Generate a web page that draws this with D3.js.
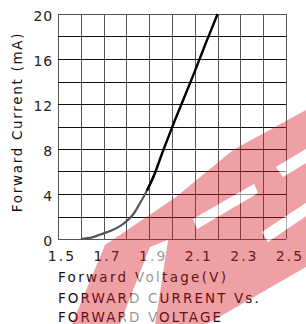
<!DOCTYPE html>
<html>
<head>
<meta charset="utf-8">
<script src="https://cdn.jsdelivr.net/npm/d3@7"></script>
<style>
  html, body { margin: 0; padding: 0; background: #fff; }
  svg { display: block; }
  text { font-family: "DejaVu Sans", sans-serif; }
</style>
</head>
<body>
<svg id="chart" width="306" height="324"></svg>
<script>
// Forward voltage (V) vs forward current (mA)
const voltage = [1.6, 1.65, 1.7, 1.75, 1.79, 1.83, 1.86, 1.89, 1.92, 1.96, 2.0, 2.05, 2.1, 2.15, 2.2];
const current = [0, 0.15, 0.5, 0.9, 1.4, 2.2, 3.2, 4.3, 5.6, 7.8, 9.9, 12.4, 14.9, 17.5, 20];
const xTicks = [1.5, 1.7, 1.9, 2.1, 2.3, 2.5];
const yTicks = [0, 4, 8, 12, 16, 20];
const titleLines = ['FORWARD CURRENT Vs.', 'FORWARD VOLTAGE'];

const svg = d3.select('#chart');
const plot = {left: 58, right: 286, top: 14, bottom: 239};

let x = d3.scaleLinear().domain([1.5, 2.5]).range([plot.left, plot.right]);
let y = d3.scaleLinear().domain([0, 20]).range([plot.bottom, plot.top]);

// Grid: one line every 0.1 V and every 2 mA
let grid = svg.append('g').attr('class', 'grid');
grid.selectAll('line.v')
  .data(d3.range(0, 11).map(i => 1.5 + i * 0.1))
  .join('line')
  .attr('class', 'v')
  .attr('x1', d => Math.round(x(d)) + 0.5)
  .attr('x2', d => Math.round(x(d)) + 0.5)
  .attr('y1', plot.top)
  .attr('y2', plot.bottom)
  .style('stroke', '#555')
  .style('stroke-width', 1);

grid.selectAll('line.h')
  .data(d3.range(0, 11).map(i => i * 2))
  .join('line')
  .attr('class', 'h')
  .attr('x1', plot.left)
  .attr('x2', plot.right)
  .attr('y1', d => Math.round(y(d)) + 0.5)
  .attr('y2', d => Math.round(y(d)) + 0.5)
  .style('stroke', d => (d === 0 || d === 20) ? '#555' : '#111')
  .style('stroke-width', 1);

// Curve: grey at the knee, black on the straight part
let pts = voltage.map((v, i) => ({v: v, c: current[i]}));
let line = d3.line()
  .x(d => x(d.v))
  .y(d => y(d.c))
  .curve(d3.curveMonotoneX);

svg.append('path')
  .datum(pts.filter(d => d.c <= 5.6))
  .attr('d', line)
  .style('fill', 'none')
  .style('stroke', '#555')
  .style('stroke-width', 2.2);

svg.append('path')
  .datum(pts.filter(d => d.c >= 4.3))
  .attr('d', line)
  .style('fill', 'none')
  .style('stroke', '#000')
  .style('stroke-width', 2.4);

// Tick labels
svg.append('g')
  .selectAll('text')
  .data(yTicks)
  .join('text')
  .attr('x', 53)
  .attr('y', d => y(d) + 7)
  .style('text-anchor', 'end')
  .style('font-size', '14px')
  .style('fill', '#222')
  .style('letter-spacing', '0.8px')
  .text(d => d);

svg.append('g')
  .selectAll('text')
  .data(xTicks)
  .join('text')
  .attr('x', d => x(d) + 4)
  .attr('y', 261)
  .style('text-anchor', 'middle')
  .style('font-size', '14px')
  .style('fill', '#222')
  .style('letter-spacing', '2px')
  .text(d => d3.format('.1f')(d));

// Axis titles
svg.append('text')
  .attr('transform', 'translate(22, 122) rotate(-90)')
  .style('text-anchor', 'middle')
  .style('font-size', '13.5px')
  .style('letter-spacing', '1.7px')
  .style('fill', '#111')
  .text('Forward Current (mA)');

svg.append('text')
  .attr('x', 58)
  .attr('y', 282)
  .style('font-size', '13.5px')
  .style('letter-spacing', '2.3px')
  .style('fill', '#111')
  .text('Forward Voltage(V)');

svg.append('g')
  .selectAll('text')
  .data(titleLines)
  .join('text')
  .attr('x', 58)
  .attr('y', (d, i) => 303 + i * 18.5)
  .style('font-size', '13.5px')
  .style('letter-spacing', '2.1px')
  .style('fill', '#111')
  .text(d => d);

// Red watermark over the lower right, with pale letter cut-outs
const wmBand = [[72, 324], [105, 245], [176, 197], [233, 150], [306, 110], [306, 267], [207, 324]];
const wmCuts = [
  [[120, 324], [150, 247], [168, 240], [155, 324]],
  [[193, 219], [254, 184], [258, 193], [197, 229]],
  [[276, 167], [306, 149], [306, 163], [283, 177]],
  [[262, 232], [306, 203], [306, 216], [268, 242]]
];
const toPath = p => 'M' + p.map(q => q.join(',')).join('L') + 'Z';

let defs = svg.append('defs');
let mask = defs.append('mask').attr('id', 'wm-mask');
mask.append('path').attr('d', toPath(wmBand)).style('fill', '#fff');
mask.selectAll('path.cut')
  .data(wmCuts)
  .join('path')
  .attr('class', 'cut')
  .attr('d', toPath)
  .style('fill', '#000');

svg.append('rect')
  .attr('x', 0).attr('y', 0)
  .attr('width', 306).attr('height', 324)
  .attr('mask', 'url(#wm-mask)')
  .style('fill', 'rgb(215, 20, 30)')
  .style('opacity', 0.4)
  .style('pointer-events', 'none');

svg.append('g')
  .selectAll('path')
  .data(wmCuts)
  .join('path')
  .attr('d', toPath)
  .style('fill', '#fff')
  .style('opacity', 0.55)
  .style('pointer-events', 'none');
</script>
</body>
</html>
